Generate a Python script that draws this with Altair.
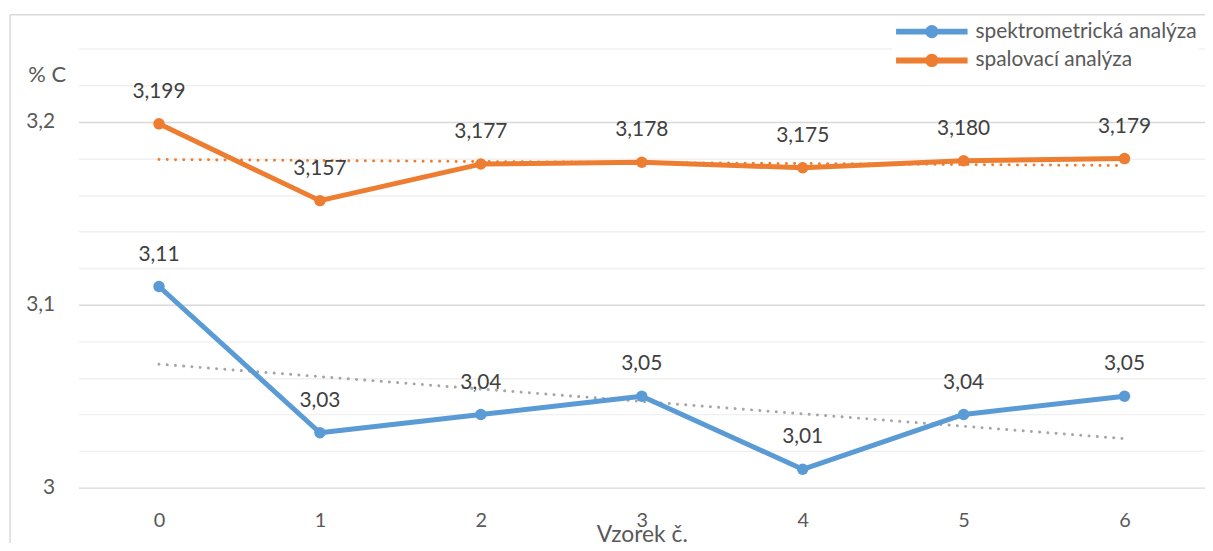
import altair as alt
import pandas as pd

# ---- data ----
samples = [0, 1, 2, 3, 4, 5, 6]
spektro = [3.11, 3.03, 3.04, 3.05, 3.01, 3.04, 3.05]
spektro_labels = ["3,11", "3,03", "3,04", "3,05", "3,01", "3,04", "3,05"]
spal = [3.199, 3.157, 3.177, 3.178, 3.175, 3.1788, 3.180]
spal_labels = ["3,199", "3,157", "3,177", "3,178", "3,175", "3,180", "3,179"]
series_names = ["spektrometrická analýza", "spalovací analýza"]
series_colors = ["#5B9BD5", "#ED7D31"]
trend_colors = ["#A5A5A5", "#ED7D31"]
y_ticks = [3.00, 3.02, 3.04, 3.06, 3.08, 3.10, 3.12, 3.14, 3.16, 3.18, 3.20, 3.22, 3.24]
x_ticks = samples

rows = []
for name, vals, labs in zip(series_names, [spektro, spal], [spektro_labels, spal_labels]):
    for x, v, lab in zip(samples, vals, labs):
        rows.append({"x": x, "value": v, "series": name, "label": lab})
df = pd.DataFrame(rows)

FONT = "Lato"
W, H = 1134, 475

x_enc = alt.X("x:Q",
              scale=alt.Scale(domain=[-0.5, 6.5], nice=False, zero=False),
              axis=alt.Axis(values=x_ticks, format="d", title="Vzorek č.",
                            grid=False, ticks=False, domain=False,
                            labelFontSize=20, labelColor="#595959", labelFont=FONT,
                            labelBaseline="middle", labelPadding=33,
                            titleFontSize=23, titleColor="#595959", titleFont=FONT,
                            titleFontWeight="normal", titleBaseline="alphabetic",
                            titleY=54.5))

y_scale = alt.Scale(domain=[3.0, 3.25815], nice=False, zero=False)
y_enc = alt.Y("value:Q", scale=y_scale,
              axis=alt.Axis(values=y_ticks,
                            labelExpr="round(datum.value*100) % 10 == 0 ? replace(format(datum.value, '.1~f'), '.', ',') : ''",
                            gridColor={"condition": {"test": "round(datum.value*100) % 10 == 0",
                                                     "value": "#D9D9D9"},
                                       "value": "#F0F0F0"},
                            gridWidth=1.4, ticks=False, domain=False,
                            labelFontSize=21, labelColor="#595959", labelFont=FONT,
                            labelPadding=24,
                            title="% C", titleAngle=0, titleX=-51, titleY=59,
                            titleAlign="left", titleBaseline="middle",
                            titleFontSize=22, titleColor="#595959", titleFont=FONT,
                            titleFontWeight="normal"))

legend_path = ("M-1,0H1M0.103,0A0.103,0.103,0,1,1,-0.103,0"
               "A0.103,0.103,0,1,1,0.103,0Z")

color_scale = alt.Scale(domain=series_names, range=series_colors)

base = alt.Chart(df)

frame_top = alt.Chart(alt.Data(values=[{}])).mark_rule(color="#D9D9D9", strokeWidth=1.5).encode(
    x=alt.value(-69), x2=alt.value(W + 10), y=alt.value(-1))
frame_left = alt.Chart(alt.Data(values=[{}])).mark_rule(color="#D9D9D9", strokeWidth=1.5).encode(
    x=alt.value(-69), y=alt.value(-1), y2=alt.value(H + 80))

trends = []
for name, tc in zip(series_names, trend_colors):
    trends.append(
        base.transform_filter(alt.datum.series == name)
        .transform_regression("x", "value")
        .mark_line(strokeDash=[0.01, 8.3], strokeCap="round", strokeWidth=3, color=tc)
        .encode(x=x_enc, y=y_enc)
    )

lines = base.mark_line(strokeWidth=5, strokeCap="round", strokeJoin="round").encode(
    x=x_enc, y=y_enc,
    color=alt.Color("series:N", scale=color_scale,
                    legend=alt.Legend(title=None, orient="none", legendX=819, legendY=1,
                                      symbolType=legend_path, symbolSize=5184,
                                      symbolStrokeWidth=6, fillColor="white",
                                      strokeColor="white",
                                      labelFontSize=21, labelColor="#595959",
                                      labelFont=FONT, labelLimit=400, labelOffset=5,
                                      padding=1, rowPadding=1, clipHeight=28)),
)

points = base.mark_circle(size=133, opacity=1).encode(
    x=x_enc, y=y_enc,
    color=alt.Color("series:N", scale=color_scale, legend=None),
)

labels = base.mark_text(dy=-32, fontSize=21, font=FONT, color="#404040").encode(
    x=x_enc, y=y_enc, text="label:N")

chart = alt.layer(frame_top, frame_left, *trends, lines, points, labels).properties(
    width=W, height=H,
    autosize=alt.AutoSizeParams(type="none"),
    padding={"left": 71, "top": 6, "right": 0, "bottom": 54},
).configure_view(stroke=None)

chart.save("out.html", embed_options={"renderer": "svg", "actions": False})
